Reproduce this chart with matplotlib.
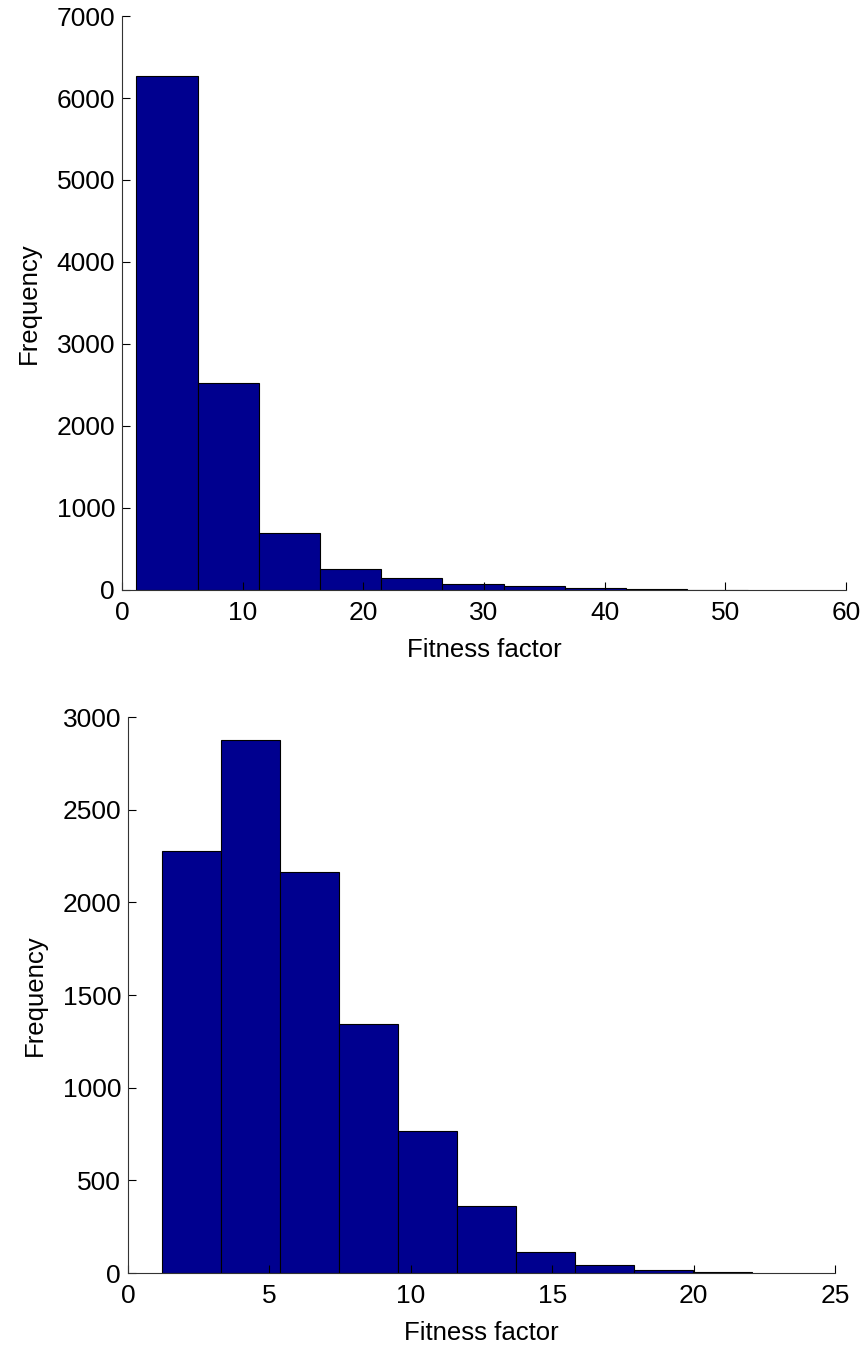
import matplotlib.pyplot as plt

# bin edges and counts
top_edges = [1.2, 6.27, 11.34, 16.41, 21.48, 26.55, 31.62, 36.69, 41.76, 46.83, 51.9]
top_counts = [6270, 2520, 690, 250, 150, 73, 45, 24, 12, 5]

bot_edges = [1.2, 3.29, 5.37, 7.46, 9.54, 11.63, 13.72, 15.8, 17.89, 19.97, 22.06]
bot_counts = [2275, 2878, 2162, 1344, 766, 362, 111, 41, 18, 5]

bar_color = "#00008F"

plt.rcParams['font.family'] = ['Liberation Sans', 'DejaVu Sans']

fig = plt.figure(figsize=(8.66, 13.46), dpi=100)
ax1 = fig.add_axes([0.1409, 0.5617, 0.836, 0.4264])
ax2 = fig.add_axes([0.1478, 0.0542, 0.8164, 0.4131])


def draw(ax, edges, counts, xmax, ymax, yticks):
    lefts = edges[:-1]
    widths = [edges[i + 1] - edges[i] for i in range(len(counts))]
    ax.bar(lefts, counts, width=widths, align='edge', color=bar_color,
           edgecolor='black', linewidth=0.8)
    ax.set_xlim(0, xmax)
    ax.set_ylim(0, ymax)
    ax.set_yticks(yticks)
    ax.spines['top'].set_visible(False)
    ax.spines['right'].set_visible(False)
    ax.spines['left'].set_color('#333333')
    ax.spines['bottom'].set_color('#333333')
    ax.tick_params(axis='x', direction='in', labelsize=19, length=6, pad=8)
    ax.tick_params(axis='y', direction='in', labelsize=19, length=6, pad=5)
    ax.set_xlabel("Fitness factor", fontsize=18.5, labelpad=9)
    ax.set_ylabel("Frequency", fontsize=18.5, labelpad=11)


draw(ax1, top_edges, top_counts, 60, 7000, range(0, 7001, 1000))
draw(ax2, bot_edges, bot_counts, 25, 3000, range(0, 3001, 500))
ax1.set_xticks(range(0, 61, 10))
ax2.set_xticks(range(0, 26, 5))

fig.savefig("out.png", dpi=100)
